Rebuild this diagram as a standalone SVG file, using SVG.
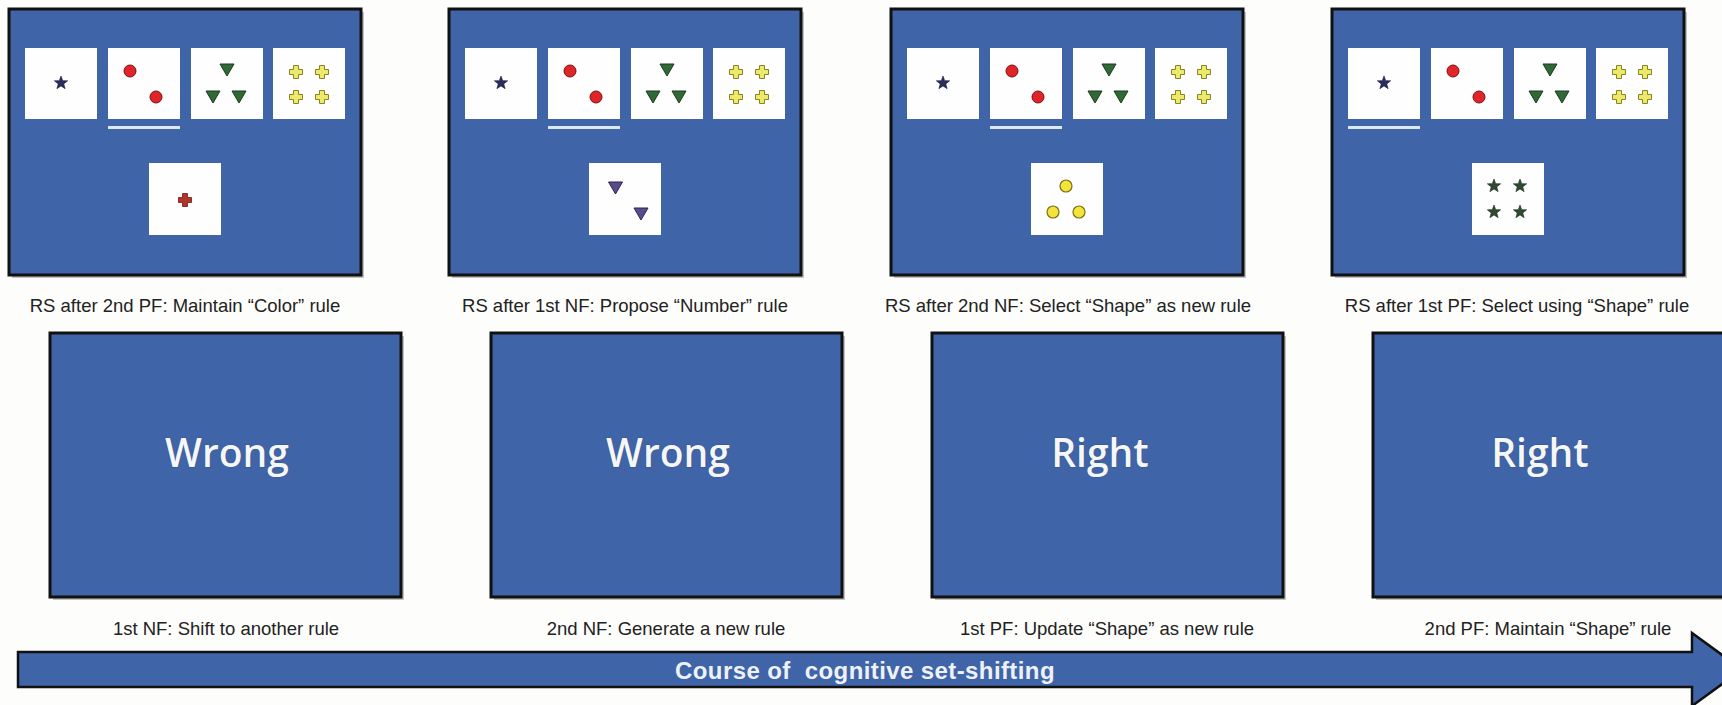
<svg xmlns="http://www.w3.org/2000/svg" xmlns:xlink="http://www.w3.org/1999/xlink" width="1722" height="705" viewBox="0 0 1722 705">
<style>
.bg{fill:#fdfdfb}
.panel{fill:#3f64a8;stroke:#111;stroke-width:3}
.shadow{fill:#8a8a8a;opacity:.5}
.card{fill:#fefefe}
.ul{fill:#dde8f4}
.lbl{font-family:"Liberation Sans",Arial,sans-serif;font-size:18.5px;fill:#222;text-anchor:middle}
.big{font-family:"Open Sans","Noto Sans",sans-serif;font-size:39px;font-weight:600;fill:#f4f6f8;text-anchor:middle;stroke:#2a3f66;stroke-width:.6;paint-order:stroke}
.arrowtxt{font-family:"Liberation Sans",Arial,sans-serif;font-size:24px;font-weight:bold;fill:#eef2f8;text-anchor:middle;letter-spacing:.4px;white-space:pre}
.arrow{fill:#3f64a8;stroke:#111;stroke-width:2.5;stroke-linejoin:miter}
.navy{fill:#2b2d5c;stroke:#15163a;stroke-width:.6}
.red{fill:#e0252a;stroke:#7a1010;stroke-width:1}
.green{fill:#2f6a36;stroke:#1c3a1e;stroke-width:1}
.yel{fill:#ecea6a;stroke:#8a8420;stroke-width:1}
.dred{fill:#b3352a;stroke:#6a1a12;stroke-width:.8}
.purple{fill:#5a4c8c;stroke:#2c2450;stroke-width:1}
.ycirc{fill:#f2e43c;stroke:#7a7010;stroke-width:1.2}
.dgreen{fill:#2e4a30;stroke:#1a2a1a;stroke-width:.6}
</style>
<defs>
<polygon id="star" points="0,-7 1.7,-2.35 6.66,-2.16 2.76,0.9 4.11,5.66 0,2.9 -4.11,5.66 -2.76,0.9 -6.66,-2.16 -1.7,-2.35"/>
<circle id="dot" r="6"/>
<polygon id="tri" points="-7,-6 7,-6 0,6"/>
<path id="cross" d="M-2.5,-6.5h5v4h4v5h-4v4h-5v-4h-4v-5h4z"/>
<g id="cardrow">
<rect class="card" x="16" y="39" width="72" height="71"/>
<rect class="card" x="99" y="39" width="72" height="71"/>
<rect class="card" x="182" y="39" width="72" height="71"/>
<rect class="card" x="264" y="39" width="72" height="71"/>
<use href="#star" class="navy" x="52" y="74"/>
<use href="#dot" class="red" x="121" y="62"/>
<use href="#dot" class="red" x="147" y="88"/>
<use href="#tri" class="green" x="218" y="61"/>
<use href="#tri" class="green" x="204" y="88"/>
<use href="#tri" class="green" x="230" y="88"/>
<use href="#cross" class="yel" x="287" y="63"/>
<use href="#cross" class="yel" x="313" y="63"/>
<use href="#cross" class="yel" x="287" y="88"/>
<use href="#cross" class="yel" x="313" y="88"/>
</g>
</defs>
<rect class="bg" width="1722" height="705"/>

<g id="rs1" transform="translate(9,9)">
<rect class="shadow" x="3" y="3" width="352" height="266"/>
<rect class="panel" width="352" height="266"/>
<use href="#cardrow"/>
<rect class="ul" x="99" y="117" width="72" height="3"/>
<rect class="card" x="140" y="154" width="72" height="72"/>
<use href="#cross" class="dred" x="176" y="191"/>
</g>
<text class="lbl" x="185" y="312">RS after 2nd PF: Maintain “Color” rule</text>

<g id="rs2" transform="translate(449,9)">
<rect class="shadow" x="3" y="3" width="352" height="266"/>
<rect class="panel" width="352" height="266"/>
<use href="#cardrow"/>
<rect class="ul" x="99" y="117" width="72" height="3"/>
<rect class="card" x="140" y="154" width="72" height="72"/>
<use href="#tri" class="purple" x="166.5" y="179"/>
<use href="#tri" class="purple" x="192" y="205"/>
</g>
<text class="lbl" x="625" y="312">RS after 1st NF: Propose “Number” rule</text>

<g id="rs3" transform="translate(891,9)">
<rect class="shadow" x="3" y="3" width="352" height="266"/>
<rect class="panel" width="352" height="266"/>
<use href="#cardrow"/>
<rect class="ul" x="99" y="117" width="72" height="3"/>
<rect class="card" x="140" y="154" width="72" height="72"/>
<use href="#dot" class="ycirc" x="175" y="177"/>
<use href="#dot" class="ycirc" x="162" y="203"/>
<use href="#dot" class="ycirc" x="188" y="203"/>
</g>
<text class="lbl" x="1068" y="312">RS after 2nd NF: Select “Shape” as new rule</text>

<g id="rs4" transform="translate(1332,9)">
<rect class="shadow" x="3" y="3" width="352" height="266"/>
<rect class="panel" width="352" height="266"/>
<use href="#cardrow"/>
<rect class="ul" x="16" y="117" width="72" height="3"/>
<rect class="card" x="140" y="154" width="72" height="72"/>
<use href="#star" class="dgreen" x="162" y="177"/>
<use href="#star" class="dgreen" x="188" y="177"/>
<use href="#star" class="dgreen" x="162" y="203"/>
<use href="#star" class="dgreen" x="188" y="203"/>
</g>
<text class="lbl" x="1517" y="312">RS after 1st PF: Select using “Shape” rule</text>

<g id="fb1">
<rect class="shadow" x="53" y="336" width="351" height="264"/>
<rect class="panel" x="50" y="333" width="351" height="264"/>
<text class="big" x="227" y="467">Wrong</text>
<text class="lbl" x="226" y="635">1st NF: Shift to another rule</text>
</g>

<g id="fb2">
<rect class="shadow" x="494" y="336" width="351" height="264"/>
<rect class="panel" x="491" y="333" width="351" height="264"/>
<text class="big" x="668" y="467">Wrong</text>
<text class="lbl" x="666" y="635">2nd NF: Generate a new rule</text>
</g>

<g id="fb3">
<rect class="shadow" x="935" y="336" width="351" height="264"/>
<rect class="panel" x="932" y="333" width="351" height="264"/>
<text class="big" x="1100" y="467">Right</text>
<text class="lbl" x="1107" y="635">1st PF: Update “Shape” as new rule</text>
</g>

<g id="fb4">
<rect class="shadow" x="1376" y="336" width="351" height="264"/>
<rect class="panel" x="1373" y="333" width="351" height="264"/>
<text class="big" x="1540" y="467">Right</text>
<text class="lbl" x="1548" y="635">2nd PF: Maintain “Shape” rule</text>
</g>

<g id="connectors">
<polygon class="arrow" points="18,652 1692,652 1692,633 1742,669.5 1692,706 1692,687 18,687"/>
<text class="arrowtxt" x="865" y="679" xml:space="preserve">Course of  cognitive set-shifting</text>
</g>
</svg>
